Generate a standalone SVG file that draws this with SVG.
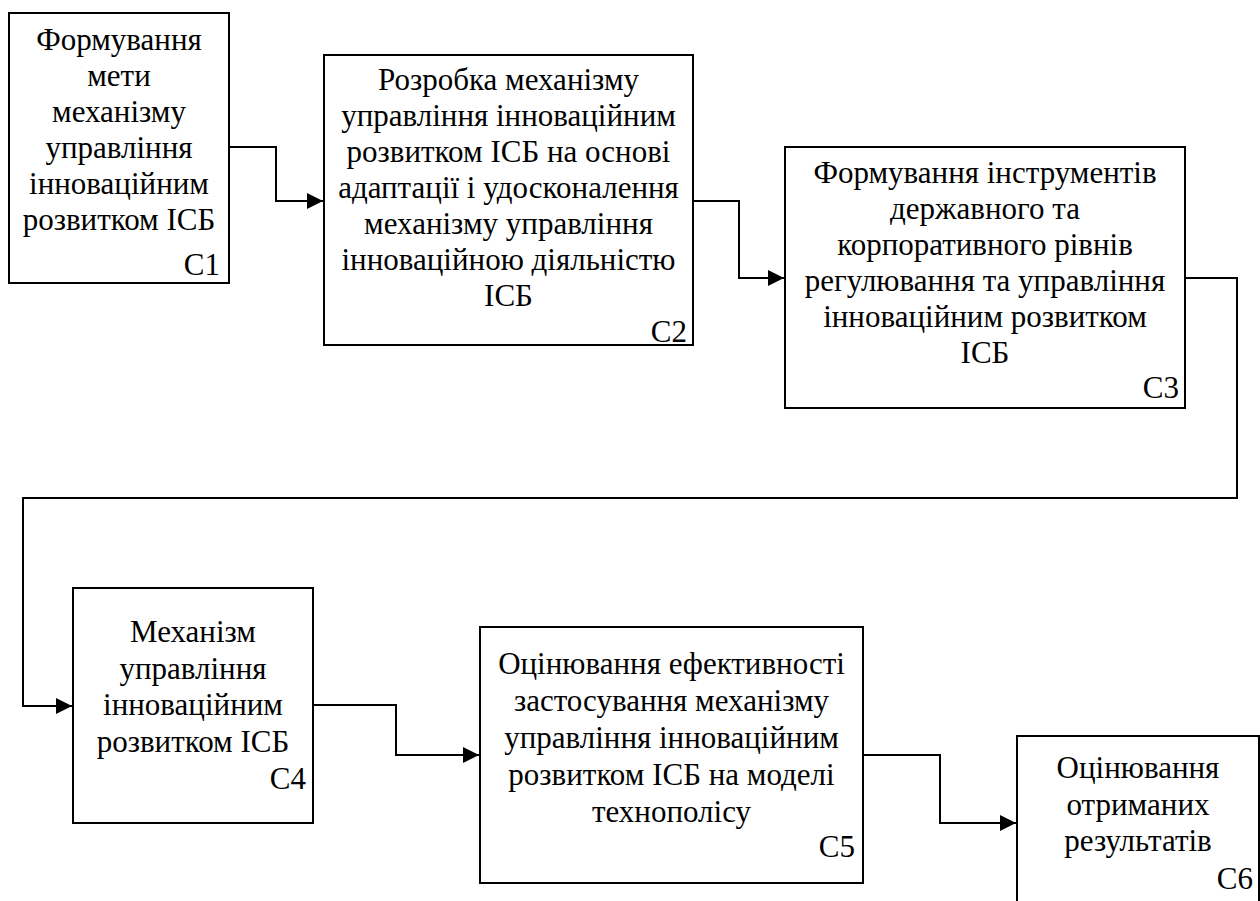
<svg xmlns="http://www.w3.org/2000/svg" width="1260" height="901" viewBox="0 0 1260 901">
<defs>
<style>
.box{fill:#fff;stroke:#000;stroke-width:2}
.t{font-family:"Liberation Serif","Times New Roman",serif;font-size:31px;fill:#000;text-anchor:middle}
.l{font-family:"Liberation Serif","Times New Roman",serif;font-size:31px;fill:#000;text-anchor:end}
.c{fill:none;stroke:#000;stroke-width:2}
</style>
<marker id="arr" markerUnits="userSpaceOnUse" markerWidth="16" markerHeight="16" viewBox="0 0 15 15" refX="15" refY="7.5" orient="auto">
<path d="M0,0 L15,7.5 L0,15 Z" fill="#000"/>
</marker>
</defs>
<rect width="1260" height="901" fill="#fff"/>
<g id="connectors">
<path class="c" d="M229,147 H276 V201 H323" marker-end="url(#arr)"/>
<path class="c" d="M693,201 H739 V278 H784" marker-end="url(#arr)"/>
<path class="c" d="M1185,278 H1237 V498 H23 V706 H72" marker-end="url(#arr)"/>
<path class="c" d="M313,705 H396 V755 H479" marker-end="url(#arr)"/>
<path class="c" d="M863,755 H940 V823 H1016" marker-end="url(#arr)"/>
</g>
<g id="C1">
<rect class="box" x="9" y="13" width="220" height="270"/>
<text class="t" x="119" y="50">Формування</text>
<text class="t" x="119" y="86">мети</text>
<text class="t" x="119" y="122">механізму</text>
<text class="t" x="119" y="158">управління</text>
<text class="t" x="119" y="194">інноваційним</text>
<text class="t" x="119" y="230">розвитком ІСБ</text>
<text class="l" x="220" y="275">С1</text>
</g>
<g id="C2">
<rect class="box" x="324" y="55" width="369" height="290"/>
<text class="t" x="508.5" y="90">Розробка механізму</text>
<text class="t" x="508.5" y="126">управління інноваційним</text>
<text class="t" x="508.5" y="162">розвитком ІСБ на основі</text>
<text class="t" x="508.5" y="198">адаптації і удосконалення</text>
<text class="t" x="508.5" y="234">механізму управління</text>
<text class="t" x="508.5" y="270">інноваційною діяльністю</text>
<text class="t" x="508.5" y="306">ІСБ</text>
<text class="l" x="687" y="342">С2</text>
</g>
<g id="C3">
<rect class="box" x="785" y="147" width="400" height="261"/>
<text class="t" x="985" y="183">Формування інструментів</text>
<text class="t" x="985" y="219">державного та</text>
<text class="t" x="985" y="255">корпоративного рівнів</text>
<text class="t" x="985" y="291">регулювання та управління</text>
<text class="t" x="985" y="327">інноваційним розвитком</text>
<text class="t" x="985" y="363">ІСБ</text>
<text class="l" x="1179" y="398">С3</text>
</g>
<g id="C4">
<rect class="box" x="73" y="588" width="240" height="235"/>
<text class="t" x="193" y="642">Механізм</text>
<text class="t" x="193" y="678.5">управління</text>
<text class="t" x="193" y="715">інноваційним</text>
<text class="t" x="193" y="751.5">розвитком ІСБ</text>
<text class="l" x="306" y="789">С4</text>
</g>
<g id="C5">
<rect class="box" x="480" y="627" width="383" height="256"/>
<text class="t" x="671.5" y="673.5">Оцінювання ефективності</text>
<text class="t" x="671.5" y="710.5">застосування механізму</text>
<text class="t" x="671.5" y="747.5">управління інноваційним</text>
<text class="t" x="671.5" y="784.5">розвитком ІСБ на моделі</text>
<text class="t" x="671.5" y="821.5">технополісу</text>
<text class="l" x="855" y="857">С5</text>
</g>
<g id="C6">
<rect class="box" x="1017" y="736" width="242" height="174"/>
<text class="t" x="1138" y="778">Оцінювання</text>
<text class="t" x="1138" y="815">отриманих</text>
<text class="t" x="1138" y="851">результатів</text>
<text class="l" x="1253" y="889">С6</text>
</g>
</svg>
